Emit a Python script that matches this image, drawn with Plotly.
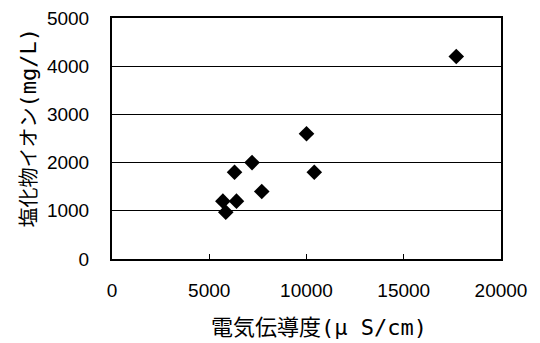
import plotly.graph_objects as go

conductivity = [17700, 10000, 10400, 7200, 6300, 7700, 5700, 6400, 5850]
chloride = [4200, 2600, 1800, 2000, 1800, 1400, 1200, 1200, 970]

x_ticks = [0, 5000, 10000, 15000, 20000]
y_ticks = [0, 1000, 2000, 3000, 4000, 5000]
x_title_main = "電気伝導度"
x_title_unit = "(μ S/cm)"
y_title_main = "塩化物イオン"
y_title_unit = "(mg/L)"

MONO = "DejaVu Sans Mono, monospace"

fig = go.Figure()
fig.add_trace(go.Scatter(
    x=conductivity, y=chloride, mode="markers",
    marker=dict(symbol="diamond", size=12, color="black", line=dict(width=0)),
    showlegend=False, cliponaxis=False,
))

tick_font = dict(family="Liberation Sans, Arial, sans-serif", size=19, color="black")

# page body has an 8px margin: compensate so the plot area lands where the reference has it
fig.update_layout(
    width=532, height=335,
    margin=dict(l=104, r=39, t=10, b=84, autoexpand=False),
    paper_bgcolor="white", plot_bgcolor="white",
    xaxis=dict(range=[0, 20000], tickvals=x_ticks, ticktext=[str(v) for v in x_ticks],
               showgrid=False, zeroline=False, showline=True, linecolor="black",
               linewidth=2, mirror=True, ticks="inside", ticklen=5, tickcolor="black",
               tickfont=tick_font, ticklabelstandoff=13, automargin=False,
               ticklabeloverflow="allow"),
    yaxis=dict(range=[0, 5000], tickvals=y_ticks, ticktext=[str(v) for v in y_ticks],
               showgrid=True, gridcolor="black", gridwidth=1, zeroline=False,
               showline=True, linecolor="black", linewidth=2, mirror=True,
               ticks="", tickfont=tick_font, ticklabelstandoff=17, automargin=False,
               ticklabeloverflow="allow"),
    annotations=[
        dict(text=x_title_main + f"<span style='font-family:{MONO}'>{x_title_unit}</span>",
             x=0.5, y=0, xref="paper", yref="paper",
             xanchor="center", yanchor="middle", xshift=12, yshift=-66,
             showarrow=False,
             font=dict(family="Noto Sans CJK JP, sans-serif", size=22, color="black")),
        dict(text=y_title_main + f"<span style='font-family:{MONO}; font-size:22px'>{y_title_unit}</span>",
             x=0, y=0.5, xref="paper", yref="paper",
             textangle=-90, xanchor="center", yanchor="middle", xshift=-85, yshift=10,
             showarrow=False,
             font=dict(family="Noto Sans CJK JP, sans-serif", size=20, color="black")),
    ],
)
fig.write_html("out.html")
